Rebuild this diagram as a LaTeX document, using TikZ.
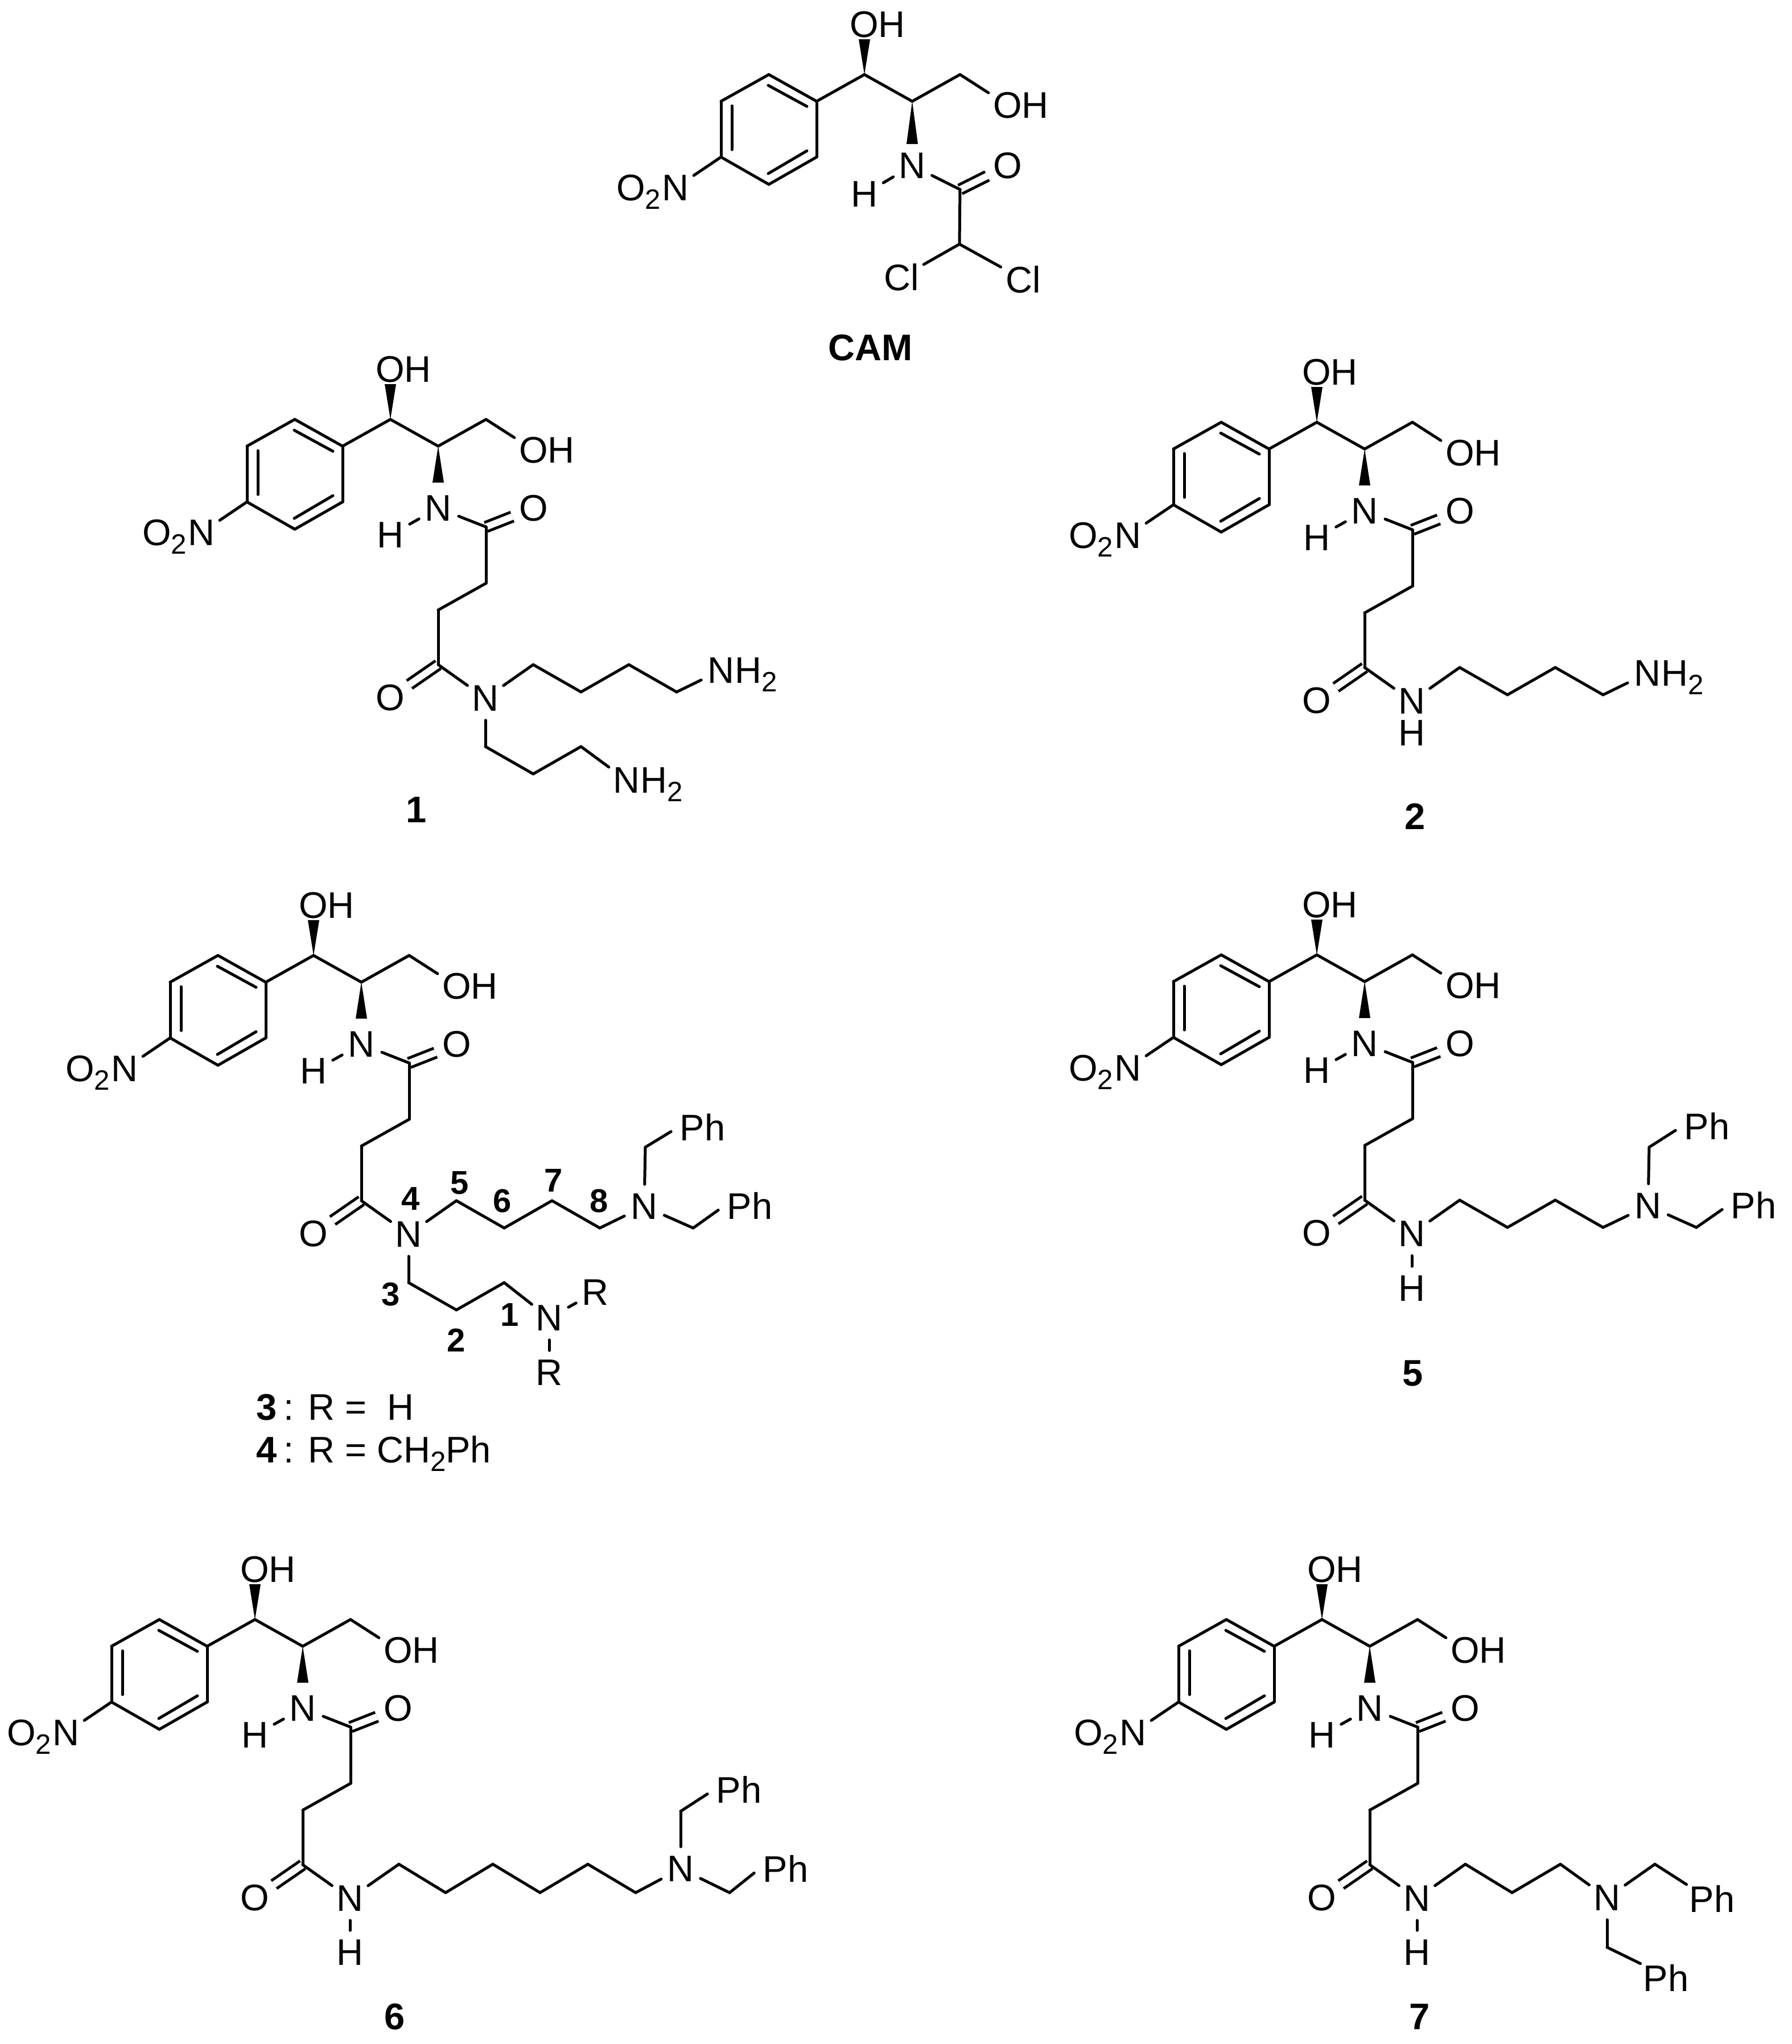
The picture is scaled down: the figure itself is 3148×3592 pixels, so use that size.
\documentclass[tikz,border=0pt]{standalone}
\usepackage{fontspec}
\setmainfont{Liberation Sans}
\usetikzlibrary{positioning, calc}

\newcommand{\lowtwo}{\raisebox{-1.5mm}{\fontsize{14}{15}\selectfont 2}}

\tikzset{
  atomfont/.style={font=\fontsize{18.5}{20}\selectfont},
  atom/.style={atomfont, circle, inner sep=.4mm},
  tail/.style={atomfont, anchor=base west, inner sep=0pt, xshift=2.4mm},
  head/.style={atomfont, anchor=base east, inner sep=0pt, xshift=-2.5mm},
  bond/.style={line width=.5mm, line cap=round},
  dblbond/.style={line width=.5mm, double, double distance=1.15mm, line cap=butt},
  cpdlabel/.style={font=\fontsize{18.5}{20}\selectfont\bfseries, inner sep=0pt},
  numlabel/.style={font=\fontsize{16.5}{18}\selectfont\bfseries, inner sep=0pt},
  legend/.style={atomfont, anchor=base west, inner sep=0pt},
}

% args: wedge end y, N y, H y, carbonyl C y
\newcommand{\camcore}[4]{
  \foreach \nm/\xx/\yy in {c1/0/0, c2/84/47, c3/168/0, c4/168/#4,
      r1/-84/47, r2/-168/0, r3/-252/47, r4/-252/145, r5/-168/193, r6/-84/145,
      i1/-169/19, i2/-101/56, i3/-233/55, i4/-233/132, i5/-169/174, i6/-101/134}
    \coordinate (\nm) at (\xx,\yy);
  \node[atom] (oa) at (0,-88) {O};
  \node[tail] (oah) at (oa.base) {H};
  \node[atom] (ob) at (252,54) {O};
  \node[tail] (obh) at (ob.base) {H};
  \node[atom] (na) at (84,#2) {N};
  \node[atom] (ha) at (0,#3) {H};
  \node[atom] (oc) at (252,#2) {O};
  \node[atom] (nb) at (-332,199) {N};
  \node[head] (nbo) at (nb.base) {O\lowtwo};
  \fill (c1) -- (-10,-62) -- (10,-62) -- cycle;
  \fill (c2) -- (74,#1) -- (94,#1) -- cycle;
  \draw[dblbond] (c4) -- (oc);
  \path[bond]
    (r1) edge (r2) (r2) edge (r3) (r3) edge (r4) (r4) edge (r5) (r5) edge (r6) (r6) edge (r1)
    (i1) edge (i2) (i3) edge (i4) (i5) edge (i6)
    (r1) edge (c1) (c1) edge (c2) (c2) edge (c3) (c3) edge (ob)
    (r4) edge (nb) (na) edge (ha) (na) edge (c4);
}

% succinyl part down to the second amide N
\newcommand{\linker}{
  \foreach \nm/\xx/\yy in {s1/168/288, s2/84/335, s3/84/431}
    \coordinate (\nm) at (\xx,\yy);
  \node[atom] (od) at (0,489) {O};
  \node[atom] (nc) at (167,490) {N};
  \draw[dblbond] (s3) -- (od);
  \path[bond] (c4) edge (s1) (s1) edge (s2) (s2) edge (s3) (s3) edge (nc);
}

\newcommand{\butyl}{
  \foreach \nm/\xx/\yy in {k1/251/431, k2/335/479, k3/419/431, k4/503/479}
    \coordinate (\nm) at (\xx,\yy);
  \path[bond] (nc) edge (k1) (k1) edge (k2) (k2) edge (k3) (k3) edge (k4);
}

\newcommand{\phenyl}[2]{
  \node[atom] (#1) at (#2) {P};
  \node[tail, xshift=-.2mm] (#1h) at (#1.base) {h};
}

\begin{document}
\begin{tikzpicture}[x=.1mm, y=-.1mm]
  \useasboundingbox (0,0) rectangle (3148,3592);

  % CAM
  \begin{scope}[shift={(1519,131)}, name prefix=cam-]
    \camcore{122}{160}{210}{202}
    \coordinate (cl) at (167,298);
    \node[atom] (cla) at (65,356) {Cl};
    \node[atom] (clb) at (279,360) {Cl};
    \path[bond] (c4) edge (cl) (cl) edge (cla) (cl) edge (clb);
    \node[cpdlabel] (name) at (11,480) {CAM};
  \end{scope}

  % 1
  \begin{scope}[shift={(686,737)}, name prefix=ma-]
    \camcore{111}{156}{203}{189}
    \linker
    \butyl
    \node[atom] (nd) at (581,441) {N};
    \node[tail] (ndh) at (nd.base) {H\lowtwo};
    \foreach \nm/\xx/\yy in {a1/167/575, a2/251/623, a3/335/575}
      \coordinate (\nm) at (\xx,\yy);
    \node[atom] (ne) at (415,634) {N};
    \node[tail] (neh) at (ne.base) {H\lowtwo};
    \path[bond] (k4) edge (nd) (nc) edge (a1) (a1) edge (a2) (a2) edge (a3) (a3) edge (ne);
    \node[cpdlabel] (name) at (46,686) {1};
  \end{scope}

  % 2
  \begin{scope}[shift={(2314,742)}, name prefix=mb-]
    \camcore{111}{156}{203}{189}
    \linker
    \butyl
    \node[atom] (nch) at (167,546) {H};
    \node[atom] (nd) at (581,441) {N};
    \node[tail] (ndh) at (nd.base) {H\lowtwo};
    \path[bond] (k4) edge (nd);
    \node[cpdlabel] (name) at (173,693) {2};
  \end{scope}

  % 3 and 4
  \begin{scope}[shift={(551,1679)}, name prefix=mc-]
    \camcore{111}{156}{203}{189}
    \linker
    \butyl
    \node[atom] (nd) at (581,441) {N};
    \coordinate (b1) at (583,337);
    \coordinate (b2) at (667,479);
    \phenyl{pa}{665,303}
    \phenyl{pb}{748,441}
    \foreach \nm/\xx/\yy in {a1/167/575, a2/251/623, a3/335/575}
      \coordinate (\nm) at (\xx,\yy);
    \node[atom] (ne) at (414,637) {N};
    \node[atom] (ra) at (495,592) {R};
    \node[atom] (rb) at (414,733) {R};
    \path[bond] (k4) edge (nd) (nd) edge (b1) (b1) edge (pa.190) (nd) edge (b2) (b2) edge (pb.190)
      (nc) edge (a1) (a1) edge (a2) (a2) edge (a3) (a3) edge (ne) (ne) edge (ra) (ne) edge (rb);
    \foreach \nm/\xx/\yy/\txt in {pos1/345/632/1, pos2/251/676/2, pos3/136/596/3, pos4/171/428/4,
        pos5/257/400/5, pos6/332/432/6, pos7/422/396/7, pos8/502/432/8}
      \node[numlabel] (\nm) at (\xx,\yy) {\txt};
    \node[legend] (lega) at (-101,816) {\textbf{3}\hspace{-.6mm} : R =\ \ H};
    \node[legend] (legb) at (-101,891) {\textbf{4}\hspace{-.6mm} : R = CH\lowtwo Ph};
  \end{scope}

  % 5
  \begin{scope}[shift={(2314,1678)}, name prefix=md-]
    \camcore{111}{156}{203}{189}
    \linker
    \butyl
    \node[atom] (nch) at (167,586) {H};
    \node[atom] (nd) at (582,441) {N};
    \coordinate (b1) at (584,338);
    \coordinate (b2) at (667,479);
    \phenyl{pa}{667,302}
    \phenyl{pb}{749,441}
    \path[bond] (nc) edge (nch) (k4) edge (nd) (nd) edge (b1) (b1) edge (pa.190) (nd) edge (b2) (b2) edge (pb.190);
    \node[cpdlabel] (name) at (169,735) {5};
  \end{scope}

  % 6
  \begin{scope}[shift={(448,2846)}, name prefix=me-]
    \camcore{111}{156}{203}{189}
    \linker
    \foreach \nm/\xx/\yy in {k1/253/430, k2/335/480, k3/418/430, k4/501/480, k5/585/430, k6/669/480,
        b1/748/337, b2/834/480}
      \coordinate (\nm) at (\xx,\yy);
    \node[atom] (nch) at (167,585) {H};
    \node[atom] (nd) at (748,438) {N};
    \phenyl{pa}{832,300}
    \phenyl{pb}{914,439}
    \path[bond] (nc) edge (nch) (nc) edge (k1) (k1) edge (k2) (k2) edge (k3) (k3) edge (k4) (k4) edge (k5)
      (k5) edge (k6) (k6) edge (nd) (nd) edge (b1) (b1) edge (pa.190) (nd) edge (b2) (b2) edge (pb.190);
    \node[cpdlabel] (name) at (246,698) {6};
  \end{scope}

  % 7
  \begin{scope}[shift={(2323,2846)}, name prefix=mf-]
    \camcore{111}{156}{203}{189}
    \linker
    \foreach \nm/\xx/\yy in {k1/252/430, k2/334/480, k3/419/430, b1/585/430, b2/501/576}
      \coordinate (\nm) at (\xx,\yy);
    \node[atom] (nch) at (167,585) {H};
    \node[atom] (nd) at (501,489) {N};
    \phenyl{pa}{667,492}
    \phenyl{pb}{586,631}
    \path[bond] (nc) edge (nch) (nc) edge (k1) (k1) edge (k2) (k2) edge (k3) (k3) edge (nd)
      (nd) edge (b1) (b1) edge (pa.135) (nd) edge (b2) (b2) edge (pb.135);
    \node[cpdlabel] (name) at (172,698) {7};
  \end{scope}
\end{tikzpicture}
\end{document}
